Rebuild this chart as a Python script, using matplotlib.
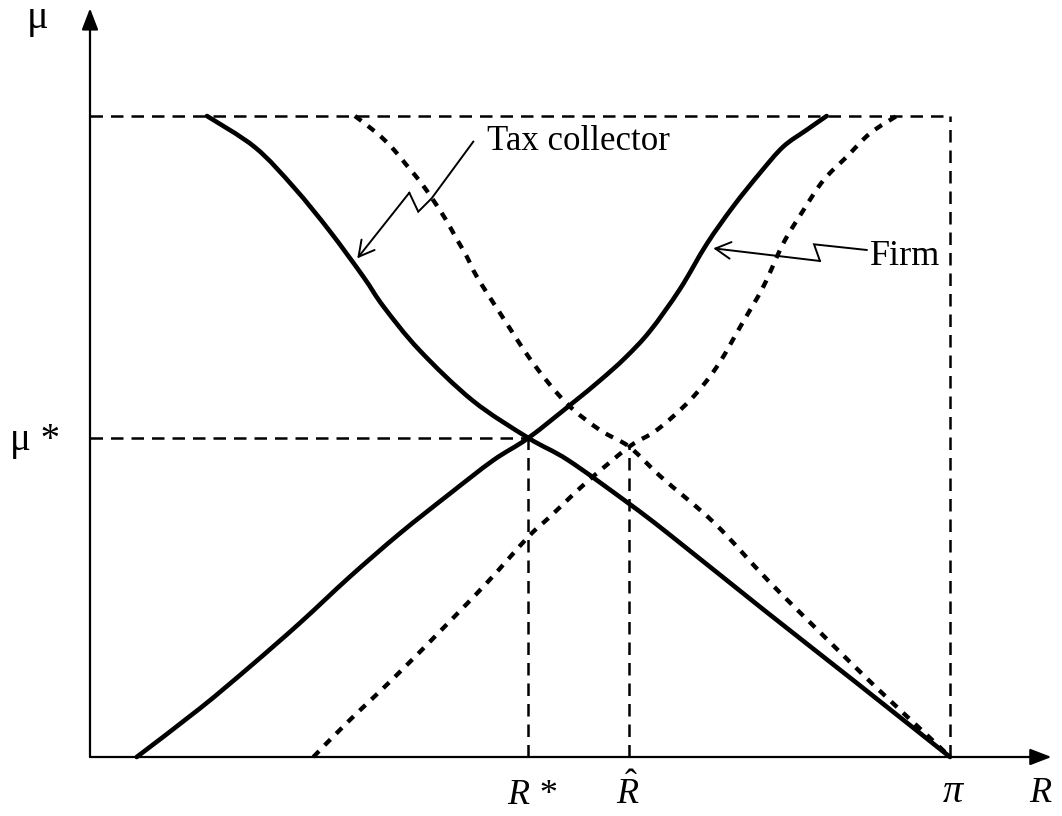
import matplotlib
matplotlib.use("Agg")
import matplotlib.pyplot as plt
from matplotlib.path import Path
from matplotlib.patches import PathPatch

plt.rcParams['font.family'] = ['Liberation Serif', 'DejaVu Serif']
plt.rcParams['mathtext.fontset'] = 'custom'
plt.rcParams['mathtext.rm'] = 'Liberation Serif'
plt.rcParams['mathtext.it'] = 'Liberation Serif:italic'

# ---------------- data (R scaled so that pi = 1, mu scaled so that top = 1) -------------
tax_R = [0.136, 0.192, 0.2375, 0.279, 0.3178, 0.3414, 0.3829, 0.445, 0.5097, 0.556,
         0.626, 0.672, 0.784, 0.892, 1.0]
tax_mu = [1.0, 0.951, 0.888, 0.82, 0.7493, 0.7025, 0.6349, 0.556, 0.4977, 0.463,
          0.396, 0.349, 0.229, 0.115, 0.0]

tax2_R = [0.308, 0.333, 0.351, 0.368, 0.384, 0.399, 0.413, 0.426, 0.438, 0.450,
          0.477, 0.5155, 0.554, 0.593, 0.627, 0.664, 0.726, 0.788, 0.850, 0.913,
          0.975, 1.0]
tax2_mu = [1.0, 0.974, 0.951, 0.9235, 0.8975, 0.869, 0.840, 0.809, 0.781, 0.749,
           0.692, 0.614, 0.552, 0.510, 0.484, 0.437, 0.365, 0.276, 0.193, 0.110,
           0.032, 0.0]

firm_R = [0.0543, 0.128, 0.186, 0.244, 0.302, 0.3605, 0.4186, 0.469, 0.5097, 0.560,
          0.593, 0.6221, 0.6512, 0.686, 0.717, 0.748, 0.779, 0.806, 0.833, 0.8566]
firm_mu = [0.0, 0.076, 0.141, 0.209, 0.281, 0.349, 0.411, 0.463, 0.4977, 0.551,
           0.5874, 0.6225, 0.6646, 0.730, 0.800, 0.859, 0.911, 0.952, 0.978, 1.0]

firm2_R = [0.2597, 0.2985, 0.353, 0.407, 0.461, 0.51, 0.535, 0.576, 0.627, 0.659,
           0.698, 0.729, 0.756, 0.783, 0.806, 0.8295, 0.853, 0.880, 0.907, 0.938]
firm2_mu = [0.0, 0.053, 0.123, 0.196, 0.271, 0.344, 0.375, 0.427, 0.484, 0.510,
            0.557, 0.609, 0.671, 0.734, 0.801, 0.853, 0.900, 0.9365, 0.973, 1.0]

R_STAR = 0.5097
R_HAT = 0.627
MU_STAR = 0.4977
MU_HAT = 0.484
PI = 1.0
MU_TOP = 1.0

tick_labels_x = ["R *", r"$\hat{R}$", "\u03c0", "R"]
tick_labels_y = ["\u03bc", "\u03bc *"]


def smooth_path(xs, ys):
    """Cubic Bezier path passing through the given points (Catmull-Rom tangents)."""
    pts = list(zip(xs, ys))
    n = len(pts)
    verts = [pts[0]]
    codes = [Path.MOVETO]
    for i in range(n - 1):
        p0 = pts[i - 1] if i > 0 else pts[i]
        p1 = pts[i]
        p2 = pts[i + 1]
        p3 = pts[i + 2] if i + 2 < n else pts[i + 1]
        c1 = (p1[0] + (p2[0] - p0[0]) / 6.0, p1[1] + (p2[1] - p0[1]) / 6.0)
        c2 = (p2[0] - (p3[0] - p1[0]) / 6.0, p2[1] - (p3[1] - p1[1]) / 6.0)
        verts += [c1, c2, p2]
        codes += [Path.CURVE4] * 3
    return Path(verts, codes)


# ---------------- figure ----------------
fig = plt.figure(figsize=(10.62, 8.16), dpi=100)
ax = fig.add_axes([0, 0, 1, 1])
ax.set_xlim(-90 / 860, (1062 - 90) / 860)
ax.set_ylim((757 - 816) / 641, 757 / 641)
ax.axis('off')

# axes with arrows
axis_kw = dict(arrowstyle='-|>,head_length=0.65,head_width=0.25', lw=1.6,
               color='black', mutation_scale=20, shrinkA=0, shrinkB=0)
ax.annotate('', xy=(0, 1.168), xytext=(0, 0), arrowprops=axis_kw)
ax.annotate('', xy=(1.118, 0), xytext=(0, 0), arrowprops=axis_kw)

# thin dashed guide lines
guide = dict(color='black', lw=1.8, linestyle=(0, (5.0, 3.2)))
ax.plot([0, PI], [MU_TOP, MU_TOP], **guide)
ax.plot([PI, PI], [0, MU_TOP], **guide)
ax.plot([0, R_STAR], [MU_STAR, MU_STAR], **guide)
ax.plot([R_STAR, R_STAR], [0, MU_STAR], **guide)
ax.plot([R_HAT, R_HAT], [0, MU_HAT], **guide)

# curves
for xs, ys in ((tax_R, tax_mu), (firm_R, firm_mu)):
    ax.add_patch(PathPatch(smooth_path(xs, ys), fill=False, edgecolor='black',
                           lw=3.3, capstyle='round', joinstyle='round'))
for xs, ys in ((tax2_R, tax2_mu), (firm2_R, firm2_mu)):
    ax.add_patch(PathPatch(smooth_path(xs, ys), fill=False, edgecolor='black',
                           lw=3.1, linestyle=(0, (1.9, 1.9))))

# lightning annotation arrows
ann_kw = dict(arrowstyle='->,head_length=0.55,head_width=0.3', lw=1.4,
              color='black', mutation_scale=20, shrinkA=0, shrinkB=0)
tax_path = [(0.4457, 0.960), (0.3973, 0.8716), (0.3817, 0.8507), (0.3713, 0.8803), (0.3108, 0.7779)]
firm_path = [(0.9031, 0.791), (0.8419, 0.7998), (0.8488, 0.7738), (0.7248, 0.7936)]
for pth in (tax_path, firm_path):
    xs = [p[0] for p in pth[:-1]]
    ys = [p[1] for p in pth[:-1]]
    ax.plot(xs, ys, color='black', lw=1.4, solid_joinstyle='miter')
    ax.annotate('', xy=pth[-1], xytext=pth[-2], arrowprops=ann_kw)

ax.text(0.4616, 0.947, "Tax collector", fontsize=25, ha='left', va='baseline')
ax.text(0.907, 0.7676, "Firm", fontsize=26, ha='left', va='baseline')

# axis labels
ax.text(-0.0605, 1.137, tick_labels_y[0], fontsize=29, ha='center', va='baseline')
ax.text(-0.064, 0.479, tick_labels_y[1], fontsize=28, ha='center', va='baseline')
ax.text(0.514, -0.0733, tick_labels_x[0], fontsize=26, ha='center', va='baseline', style='italic')
ax.text(0.625, -0.0733, tick_labels_x[1], fontsize=26, ha='center', va='baseline')
ax.text(1.003, -0.0702, tick_labels_x[2], fontsize=29, ha='center', va='baseline', style='italic')
ax.text(1.105, -0.0702, tick_labels_x[3], fontsize=26, ha='center', va='baseline', style='italic')

fig.savefig("out.png", dpi=100)
